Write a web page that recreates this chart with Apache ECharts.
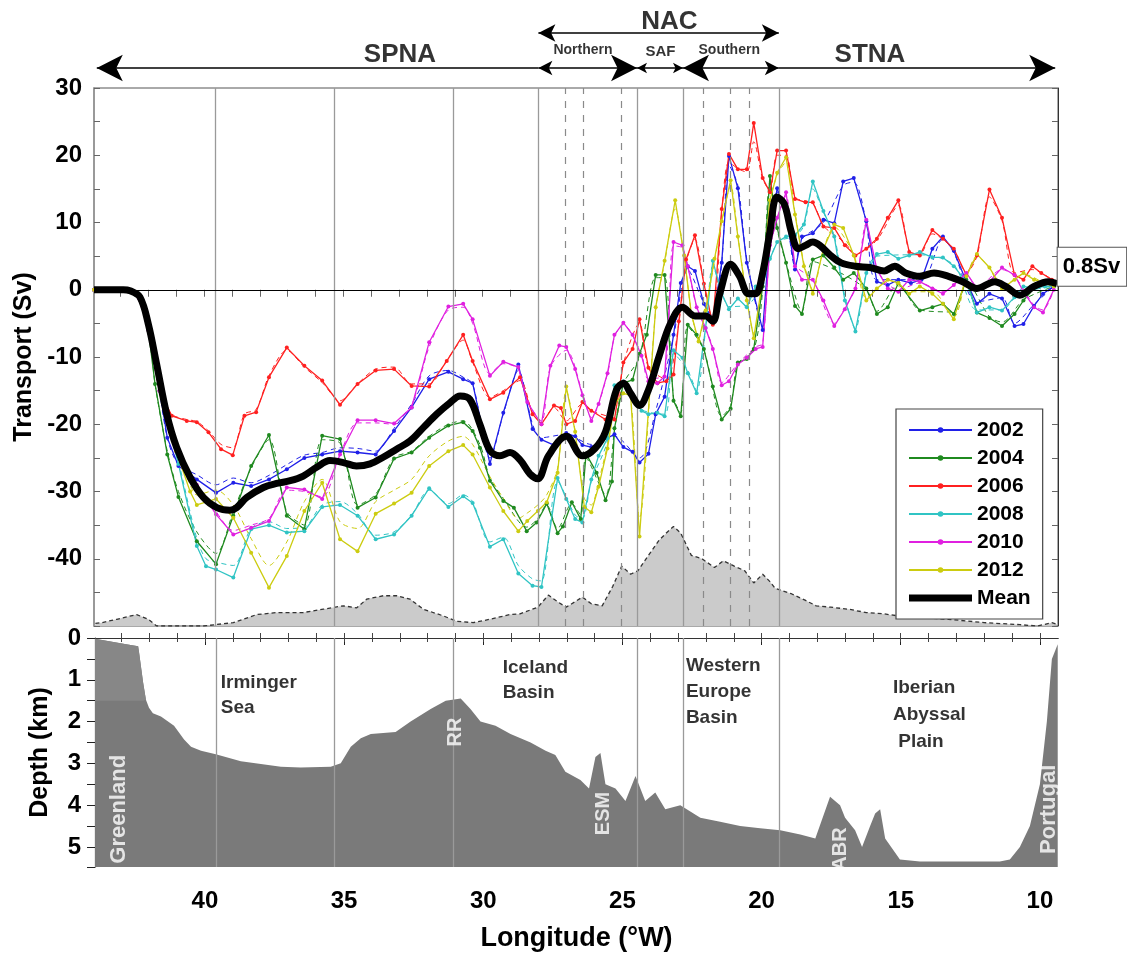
<!DOCTYPE html>
<html><head><meta charset="utf-8">
<script src="https://cdn.jsdelivr.net/npm/echarts@6/dist/echarts.min.js"></script>
<style>html,body{margin:0;padding:0;background:#fff}#c{width:1127px;height:953px}</style>
</head><body><div id="c"></div>
<script>
// ---------------- DATA ----------------
const years = ['2002', '2004', '2006', '2008', '2010', '2012'];
const yearColors = ['#2020e8', '#1f8a1f', '#ff2020', '#30c4c4', '#e020e0', '#cccc10'];

const y2002 = [[43.95,0],[43.5,0],[43.0,0],[42.66,-0.2],[42.3,-1.2],[42.0,-5],[41.7,-12],[41.32,-22.0],[40.92,-26.2],[40.26,-28.2],[39.57,-30.2],[38.95,-28.7],[38.31,-29.2],[37.67,-28.2],[37.03,-26.7],[36.40,-25.0],[35.76,-24.5],[35.12,-24.0],[34.49,-24.2],[33.84,-24.5],[33.18,-21.0],[32.55,-17.5],[31.92,-13.3],[31.23,-12.2],[30.70,-13.3],[30.36,-13.9],[29.74,-25.9],[29.26,-18.3],[28.72,-11.1],[28.21,-20.7],[27.89,-22.3],[27.44,-23.1],[27.0,-21.3],[26.68,-21.8],[26.42,-23.1],[26.10,-23.4],[25.78,-22.6],[25.27,-21.5],[24.95,-23.4],[24.62,-24.1],[24.37,-25.7],[24.05,-24.4],[23.79,-18.5],[23.47,-15.9],[23.15,-6.7],[22.89,1.0],[22.64,3.5],[22.38,2.8],[22.06,-2.1],[21.74,-4.7],[21.42,4.0],[21.16,19.9],[20.84,15.1],[20.52,4.0],[20.27,-0.6],[19.95,-6.0],[19.69,8.1],[19.43,15.1],[19.11,11.2],[18.79,3.0],[18.54,7.9],[18.15,8.4],[17.77,10.4],[17.38,9.9],[17.06,16.1],[16.68,16.6],[16.23,10.2],[15.85,1.2],[15.46,0.7],[15.08,1.5],[14.63,1.0],[14.25,1.5],[13.86,6.1],[13.48,7.9],[13.09,5.8],[12.64,1.2],[12.26,-2.1],[11.81,-0.6],[11.36,-1.3],[10.91,-5.4],[10.59,-5.1],[10.21,-2.4],[9.89,-0.6],[9.5,0.5]];
const y2004 = [[43.95,0],[43.5,0],[43.0,0],[42.66,-0.2],[42.3,-1.2],[42.0,-6],[41.76,-14.0],[41.32,-24.5],[40.92,-30.8],[40.26,-37.4],[39.57,-40.8],[38.95,-33.6],[38.31,-26.2],[37.67,-21.6],[37.03,-33.6],[36.40,-35.6],[35.76,-21.7],[35.12,-22.2],[34.49,-32.4],[33.84,-30.9],[33.18,-25.1],[32.55,-24.2],[31.92,-22.0],[31.23,-20.2],[30.70,-19.7],[30.36,-21.0],[30.10,-23.5],[29.74,-28.4],[29.26,-31.4],[28.88,-32.4],[28.42,-35.9],[28.06,-34.6],[27.70,-31.8],[27.31,-36.2],[27.12,-35.2],[26.80,-31.6],[26.48,-34.1],[26.29,-24.4],[25.91,-27.2],[25.59,-31.3],[25.36,-28.5],[25.27,-20.6],[24.95,-13.9],[24.62,-13.4],[24.37,-9.5],[24.11,-6.7],[23.79,2.2],[23.47,2.2],[23.15,-16.5],[22.89,-18.8],[22.64,-5.2],[22.32,-6.7],[22.06,-8.8],[21.74,-14.4],[21.42,-19.3],[21.10,-17.7],[20.84,-10.8],[20.52,-10.3],[20.27,-8.8],[19.95,0.5],[19.69,16.9],[19.43,9.2],[19.11,4.0],[18.79,-2.4],[18.54,-3.6],[18.15,4.5],[17.77,5.1],[17.38,3.3],[17.06,1.5],[16.68,2.5],[16.23,0.2],[15.85,-3.6],[15.46,-2.6],[15.08,1.0],[14.31,-3.1],[13.86,-2.6],[13.48,-2.1],[13.09,-3.6],[12.64,1.5],[12.26,-3.4],[11.81,-4.2],[11.36,-5.4],[10.91,-3.6],[10.59,-1.6],[10.21,0.2],[9.82,1.0],[9.5,0.5]];
const y2006 = [[43.95,0],[43.5,0],[43.0,0],[42.66,-0.2],[42.3,-1.2],[42.0,-6],[41.6,-15],[41.16,-18.75],[40.62,-19.5],[40.26,-19.7],[39.84,-21.2],[39.39,-23.7],[38.97,-24.6],[38.55,-18.75],[38.13,-18.2],[37.67,-13.0],[37.03,-8.6],[36.40,-11.3],[35.76,-13.5],[35.12,-17.1],[34.49,-14.0],[33.84,-12.0],[33.18,-11.8],[32.55,-14.3],[31.92,-14.4],[31.29,-10.6],[30.70,-6.7],[30.36,-10.6],[29.74,-16.3],[29.26,-15.3],[28.66,-13.0],[28.21,-18.5],[27.89,-20.0],[27.44,-17.2],[27.19,-17.6],[27.0,-20.0],[26.68,-19.5],[26.42,-16.7],[26.10,-18.0],[25.59,-19.3],[25.27,-19.3],[24.95,-10.8],[24.62,-8.8],[24.37,-4.4],[24.05,-11.6],[23.73,-13.9],[23.41,-13.6],[23.15,-12.6],[22.96,-4.7],[22.70,4.5],[22.38,8.1],[22.06,0.9],[21.74,-5.2],[21.42,12.0],[21.16,20.2],[20.84,17.9],[20.52,17.9],[20.27,24.8],[19.95,16.6],[19.69,14.5],[19.43,20.7],[19.11,20.7],[18.79,13.5],[18.41,13.0],[18.15,13.0],[17.77,9.4],[17.38,9.2],[17.0,6.6],[16.62,5.1],[16.23,6.1],[15.85,7.6],[15.46,10.7],[15.08,13.3],[14.69,5.6],[14.31,5.1],[13.86,8.9],[13.48,7.6],[13.09,6.1],[12.64,2.2],[12.26,5.1],[11.81,14.9],[11.36,10.7],[10.91,2.2],[10.59,1.5],[10.27,3.5],[9.95,2.5],[9.57,1.5]];
const y2008 = [[43.95,0],[43.5,0],[43.0,0],[42.66,-0.2],[42.3,-1.2],[42.0,-6],[41.6,-15],[40.92,-25.9],[40.26,-38.1],[39.93,-41.1],[39.57,-41.6],[38.95,-42.8],[38.31,-35.6],[37.67,-35.0],[37.03,-36.1],[36.40,-35.9],[35.76,-32.3],[35.12,-32.0],[34.49,-33.6],[33.84,-37.1],[33.18,-36.4],[32.55,-33.6],[31.92,-29.5],[31.23,-32.3],[30.70,-30.7],[30.36,-31.7],[29.74,-38.2],[29.26,-37.1],[28.72,-42.2],[28.21,-44.0],[27.89,-44.2],[27.31,-28.0],[27.0,-31.1],[26.68,-34.1],[26.42,-34.6],[26.10,-28.2],[25.84,-24.7],[25.52,-22.1],[25.27,-14.2],[24.95,-13.6],[24.62,-15.7],[24.30,-18.0],[24.05,-18.5],[23.73,-18.3],[23.47,-18.8],[23.15,-9.0],[22.83,-10.1],[22.64,-12.4],[22.32,-15.4],[22.0,-5.7],[21.74,4.3],[21.42,-0.6],[21.16,-2.9],[20.84,-1.3],[20.52,-2.6],[20.20,0.5],[19.95,1.0],[19.69,4.6],[19.43,7.1],[19.11,7.9],[18.79,8.1],[18.47,9.7],[18.15,16.1],[17.77,11.7],[17.38,7.9],[17.0,-1.6],[16.62,-6.2],[16.23,2.5],[15.85,5.3],[15.46,5.6],[15.08,4.6],[14.69,5.1],[14.31,5.6],[13.86,4.8],[13.48,4.8],[13.09,3.5],[12.64,1.2],[12.26,-3.4],[11.81,-2.6],[11.36,-3.1],[10.91,-1.1],[10.59,0.5],[10.21,0.2],[9.82,0.5],[9.5,0.5]];
const y2010 = [[43.95,0],[43.5,0],[43.0,0],[42.66,-0.2],[42.3,-1.2],[42.0,-6],[41.6,-15],[41.0,-24],[40.26,-29],[39.57,-33.4],[38.95,-36.4],[38.31,-35.4],[37.67,-34.4],[37.03,-29.4],[36.40,-29.7],[35.76,-31.1],[35.12,-24.5],[34.49,-19.4],[33.84,-19.4],[33.18,-19.9],[32.55,-17.5],[31.92,-7.8],[31.23,-2.5],[30.70,-2.1],[30.36,-4.4],[29.74,-12.8],[29.26,-10.7],[28.72,-11.5],[28.40,-16.7],[27.89,-20.0],[27.57,-11.3],[27.25,-8.3],[27.0,-8.5],[26.68,-11.8],[26.42,-15.7],[26.10,-19.5],[25.84,-17.0],[25.52,-12.4],[25.27,-6.7],[24.95,-4.9],[24.62,-6.7],[24.30,-9.8],[24.05,-13.6],[23.73,-13.9],[23.47,-12.9],[23.15,7.1],[22.83,6.6],[22.64,3.5],[22.32,-2.6],[22.0,-5.7],[21.74,-8.8],[21.42,-14.2],[21.16,-13.6],[20.84,-11.1],[20.52,-10.1],[20.20,-8.8],[19.95,-8.5],[19.69,6.6],[19.43,10.7],[19.11,14.5],[18.79,3.5],[18.54,1.5],[18.15,1.5],[17.77,-1.6],[17.38,-5.4],[17.0,-2.9],[16.62,0.2],[16.23,10.4],[15.85,3.0],[15.46,0.2],[15.08,-0.3],[14.69,1.5],[14.31,1.2],[13.86,0.2],[13.48,-0.6],[13.09,0.7],[12.64,2.5],[12.26,0.2],[11.81,1.2],[11.36,3.3],[10.91,2.2],[10.59,-0.3],[10.21,-2.6],[9.89,-3.4],[9.5,0]];
const y2012 = [[43.95,0],[43.5,0],[43.0,0],[42.66,-0.2],[42.3,-1.2],[42.0,-5],[41.7,-12],[41.0,-24],[40.5,-30],[40.26,-32.0],[39.57,-31.1],[38.95,-33.9],[38.31,-39.1],[37.67,-44.3],[37.03,-39.6],[36.40,-32.9],[35.76,-28.7],[35.12,-37.1],[34.49,-38.9],[33.84,-33.3],[33.18,-31.8],[32.55,-30.2],[31.92,-26.2],[31.23,-24.0],[30.70,-23.1],[30.36,-24.5],[29.74,-29.4],[29.26,-32.9],[28.72,-35.9],[28.40,-34.4],[28.02,-32.9],[27.70,-31.6],[27.31,-27.2],[27.0,-14.4],[26.68,-21.1],[26.35,-32.3],[26.10,-33.1],[25.84,-29.3],[25.52,-23.6],[25.27,-17.0],[24.95,-15.4],[24.69,-15.7],[24.37,-36.7],[23.79,-2.6],[23.47,4.3],[23.09,13.3],[22.77,5.1],[22.51,-3.6],[22.25,-7.7],[22.0,-3.1],[21.68,4.6],[21.42,10.2],[21.10,16.3],[20.84,7.9],[20.52,-1.6],[20.27,-7.2],[19.95,1.5],[19.69,13.3],[19.43,17.4],[19.11,19.7],[18.79,11.2],[18.47,3.5],[18.15,-0.6],[17.77,6.1],[17.38,9.7],[17.06,9.2],[16.68,5.1],[16.23,-1.6],[15.85,0.2],[15.46,1.5],[15.08,1.0],[14.69,-0.6],[14.31,0.5],[13.86,-0.6],[13.48,-2.1],[13.09,-4.4],[12.64,2.0],[12.26,5.3],[11.81,3.3],[11.36,0.2],[10.91,1.5],[10.59,2.5],[10.21,1.5],[9.82,1.0],[9.5,0.5]];

// dashed companion curves
const d2002 = [[43.95,0],[42.66,-0.2],[42.0,-5],[41.7,-12],[41.32,-22],[40.92,-26],[40.26,-27.5],[39.57,-29],[38.95,-28],[38.31,-28.7],[37.67,-27.6],[37.03,-26],[36.40,-24.6],[35.76,-24.2],[35.12,-23.5],[34.49,-23.6],[33.84,-24],[33.18,-20.6],[32.55,-17],[31.92,-12.8],[31.23,-12],[30.70,-13],[30.36,-14],[29.74,-25],[29.26,-18.5],[28.72,-12],[28.21,-20],[27.89,-22],[27.0,-21.5],[26.10,-23],[25.27,-21.8],[24.37,-25],[23.79,-18],[23.15,-7],[22.64,3],[22.06,-2],[21.74,-4],[21.42,4],[21.16,18.5],[20.84,15.5],[20.52,4.5],[19.95,-5.5],[19.69,8],[19.43,14.5],[19.11,11],[18.79,3.5],[18.54,7.5],[17.77,10],[17.06,15.5],[16.68,16],[16.23,10],[15.85,1.5],[14.25,1.5],[13.48,7.5],[13.09,5.5],[12.26,-1.8],[11.36,-1.2],[10.91,-5],[10.21,-2.2],[9.5,0.5]];
const d2004 = [[43.95,0],[42.66,-0.2],[42.0,-6],[41.76,-14],[41.32,-24],[40.92,-30],[40.26,-36],[39.57,-39.2],[38.95,-33],[38.31,-26.5],[37.67,-22.3],[37.03,-33],[36.40,-35],[35.76,-22.3],[35.12,-22.8],[34.49,-32],[33.84,-30.4],[33.18,-25],[32.55,-24],[31.92,-21.8],[31.23,-20],[30.70,-19.5],[30.10,-23],[29.74,-28],[29.26,-31],[28.42,-35.3],[28.06,-34.2],[27.70,-32],[27.31,-35.5],[26.80,-31.8],[26.48,-33.5],[26.29,-25],[25.59,-30.5],[25.27,-21],[24.95,-14],[24.37,-10],[23.79,1.8],[23.47,1.8],[23.15,-16],[22.89,-18.3],[22.64,-5.5],[22.06,-9],[21.42,-18.8],[21.10,-17.2],[20.84,-11],[20.27,-9],[19.95,0],[19.69,16],[19.43,9],[19.11,4],[18.54,-3.2],[18.15,4.2],[17.38,3],[16.23,0],[15.85,-3.2],[15.08,0.8],[14.31,-3],[13.09,-3.3],[12.64,1.2],[11.81,-4],[11.36,-4.8],[10.59,-1.5],[9.5,0.5]];
const d2006 = [[43.95,0],[42.66,-0.2],[42.0,-6],[41.6,-15],[41.16,-18.5],[40.62,-19.3],[40.26,-19.6],[39.84,-21],[39.39,-23],[38.97,-23.5],[38.55,-18.5],[38.13,-17.8],[37.67,-12.8],[37.03,-9],[36.40,-11.5],[35.76,-13.8],[35.12,-16.5],[34.49,-14],[33.84,-11.8],[33.18,-11.5],[32.55,-14],[31.92,-14],[31.29,-10.5],[30.70,-7.5],[30.36,-10.8],[29.74,-16],[29.26,-15],[28.66,-13.5],[28.21,-18.3],[27.89,-19.6],[27.44,-17.5],[27.0,-19.5],[26.42,-17],[26.10,-18],[25.27,-19],[24.95,-11],[24.37,-5],[24.05,-11.5],[23.41,-13.3],[22.96,-5],[22.70,4],[22.38,7.5],[22.06,1],[21.74,-4.8],[21.42,11.5],[21.16,19],[20.84,18],[20.52,17.5],[20.27,22],[19.95,16.5],[19.69,14.8],[19.43,20],[19.11,20],[18.79,13.8],[18.15,12.8],[17.77,9.5],[17.0,7],[16.62,5.3],[15.85,7.4],[15.08,12.5],[14.69,5.8],[14.31,5.3],[13.86,8.3],[13.09,6],[12.64,2.5],[12.26,5],[11.81,13.8],[11.36,10.3],[10.91,2.5],[10.27,3],[9.57,1.5]];
const d2008 = [[43.95,0],[42.66,-0.2],[42.0,-6],[41.6,-15],[40.92,-25.5],[40.26,-37],[39.93,-40],[39.57,-40.5],[38.95,-41],[38.31,-35.5],[37.67,-34.5],[37.03,-35.5],[36.40,-35.3],[35.76,-32],[35.12,-31.5],[34.49,-33.3],[33.84,-36.5],[33.18,-36],[32.55,-33.5],[31.92,-29.8],[31.23,-31.8],[30.70,-30.5],[30.36,-31.5],[29.74,-37.5],[29.26,-36.8],[28.72,-41],[28.21,-43],[27.89,-43.3],[27.31,-28.5],[26.68,-33.5],[26.42,-34],[26.10,-28.5],[25.52,-22.5],[25.27,-14.5],[24.95,-14],[24.30,-17.8],[23.47,-18.5],[23.15,-9.5],[22.64,-12],[22.32,-15],[22.0,-6],[21.74,3.5],[21.42,-0.3],[21.16,-2.5],[20.52,-2.3],[19.95,1],[19.43,7],[18.79,8],[18.47,9.5],[18.15,15],[17.77,11.5],[17.38,8],[17.0,-1],[16.62,-5.8],[16.23,2.5],[15.85,5],[14.31,5.2],[13.09,3.7],[12.26,-3],[11.36,-3],[10.91,-1.3],[10.21,0],[9.5,0.5]];
const d2010 = [[43.95,0],[42.66,-0.2],[42.0,-6],[41.6,-15],[41.0,-24],[40.26,-29],[39.57,-33],[38.95,-35.8],[38.31,-35],[37.67,-34],[37.03,-29.8],[36.40,-30],[35.76,-30.8],[35.12,-24.5],[34.49,-19.8],[33.84,-19.8],[33.18,-20],[32.55,-17.2],[31.92,-8.5],[31.23,-3],[30.70,-2.6],[30.36,-5],[29.74,-12.5],[29.26,-11],[28.72,-11.8],[28.40,-16.5],[27.89,-19.5],[27.57,-11.5],[27.0,-9],[26.42,-15.3],[26.10,-19],[25.52,-12.5],[25.27,-7],[24.95,-5.2],[24.30,-9.6],[24.05,-13.3],[23.47,-12.5],[23.15,6.5],[22.83,6.2],[22.32,-2.5],[21.74,-8.5],[21.42,-13.8],[20.84,-11],[20.20,-8.5],[19.95,-8],[19.69,6],[19.43,10.5],[19.11,14],[18.79,3.8],[18.15,1.5],[17.38,-5],[17.0,-2.7],[16.62,0.3],[16.23,9.8],[15.85,3],[15.08,0],[14.31,1],[13.48,-0.3],[12.64,2.3],[12.26,0.3],[11.36,3],[10.91,2],[10.21,-2.3],[9.89,-3],[9.5,0]];
const d2012 = [[43.95,0],[42.66,-0.2],[42.0,-5],[41.7,-12],[41.0,-23.5],[40.5,-29],[40.26,-30.5],[39.57,-29.8],[38.95,-32],[38.31,-37],[37.67,-41],[37.03,-37.5],[36.40,-31.5],[35.76,-28.2],[35.12,-34.5],[34.49,-35.5],[33.84,-31.5],[33.18,-29.8],[32.55,-28.2],[31.92,-24.7],[31.23,-22.5],[30.70,-21.8],[30.36,-23],[29.74,-27.8],[29.26,-31],[28.72,-34],[28.40,-33.2],[28.02,-32],[27.70,-30.5],[27.31,-26.5],[27.0,-15],[26.68,-21],[26.35,-31],[26.10,-32],[25.84,-28.5],[25.52,-23],[25.27,-17],[24.95,-15.5],[24.69,-16],[24.37,-34],[23.79,-3],[23.47,4],[23.09,12],[22.77,5],[22.51,-3.3],[22.25,-7.2],[22.0,-3],[21.68,4.2],[21.42,10],[21.10,15.5],[20.84,8],[20.52,-1.2],[20.27,-6.5],[19.95,1.5],[19.69,13],[19.43,17],[19.11,19],[18.79,11.5],[18.47,4],[18.15,0],[17.77,6],[17.38,9.3],[16.68,5.2],[16.23,-1.2],[15.46,1.5],[14.69,-0.3],[13.86,-0.3],[13.09,-4],[12.64,1.8],[12.26,5],[11.81,3.2],[11.36,0.4],[10.59,2.3],[9.82,1],[9.5,0.5]];

const meanLine = [[43.95,0],[43.5,0],[42.9,0],[42.66,-0.15],[42.30,-1.1],[42.0,-5.1],[41.70,-11.1],[41.34,-18.5],[40.98,-23.5],[40.50,-27.9],[40.02,-30.9],[39.54,-32.4],[39.07,-32.8],[38.83,-32.4],[38.47,-30.9],[37.87,-29.4],[37.39,-28.8],[36.91,-28.4],[36.44,-27.7],[35.96,-26.4],[35.48,-25.4],[35.0,-25.7],[34.53,-26.2],[34.04,-25.9],[33.57,-24.9],[33.09,-23.7],[32.61,-22.5],[32.13,-20.5],[31.65,-18.5],[31.17,-16.8],[30.81,-15.8],[30.46,-16.3],[30.10,-20.0],[29.74,-23.9],[29.38,-24.7],[29.02,-24.2],[28.66,-25.3],[28.30,-27.4],[28.02,-28.1],[27.64,-24.7],[27.0,-21.8],[26.42,-24.7],[25.97,-23.6],[25.59,-21.1],[25.20,-14.9],[24.94,-13.9],[24.69,-15.4],[24.37,-17.2],[24.05,-14.9],[23.66,-9.8],[23.28,-5.2],[22.83,-2.6],[22.38,-3.9],[22.0,-3.9],[21.74,-4.7],[21.49,-0.6],[21.10,3.8],[20.78,2.0],[20.46,-0.6],[20.20,-0.6],[19.95,2.5],[19.69,8.6],[19.44,13.8],[19.18,12.8],[18.92,8.6],[18.67,6.1],[18.41,6.6],[18.15,7.1],[17.90,6.6],[17.51,5.1],[17.13,4.0],[16.62,3.5],[16.10,3.3],[15.59,2.8],[15.21,3.5],[14.82,2.5],[14.31,2.0],[13.80,2.5],[13.28,2.0],[12.77,1.2],[12.26,0.2],[11.62,1.2],[11.23,0.5],[10.72,-0.8],[10.21,0.5],[9.70,1.2],[9.38,0.9]];

const grayProfile = [[43.9,-49.6],[43.67,-49.5],[43.13,-49.0],[42.42,-48.3],[42.0,-49.0],[41.70,-50],[40.98,-50],[40.02,-50],[38.95,-49.5],[38.11,-48.3],[37.39,-48.0],[36.44,-48.0],[35.72,-47.5],[35.0,-47.0],[34.52,-47.3],[34.16,-46.0],[33.57,-45.5],[33.09,-45.5],[32.61,-46.0],[32.13,-47.5],[31.41,-48.5],[30.93,-49.3],[30.34,-49.5],[29.74,-49.0],[29.02,-48.3],[28.66,-48.2],[28.02,-47.2],[27.64,-45.4],[27.31,-46.4],[27.0,-47.2],[26.42,-45.7],[26.10,-46.7],[25.71,-47.0],[25.33,-44.1],[25.01,-41.1],[24.69,-42.3],[24.43,-41.8],[24.05,-39.5],[23.66,-37.2],[23.34,-35.9],[23.15,-35.2],[22.89,-36.2],[22.51,-39.5],[22.13,-40.0],[21.68,-41.3],[21.36,-40.3],[20.97,-41.1],[20.59,-41.8],[20.27,-43.6],[19.95,-42.3],[19.69,-43.4],[19.50,-44.4],[18.92,-45.2],[18.41,-46.2],[18.03,-47.0],[17.51,-47.2],[16.87,-47.5],[16.23,-48.0],[15.59,-48.2],[15.08,-48.5],[14.57,-48.7],[13.28,-49.0],[12.0,-49.5],[10.72,-49.8],[10.08,-50.0],[9.57,-49.5],[9.35,-49.8]];

const bathymetry = [[43.95,0.02],[43.91,0.05],[42.83,0.15],[42.40,0.2],[42.37,0.33],[42.22,1.07],[42.12,1.48],[42.01,1.67],[41.87,1.8],[41.58,1.88],[41.11,2.1],[40.75,2.43],[40.50,2.6],[40.14,2.7],[39.61,2.78],[38.71,2.95],[37.27,3.08],[36.56,3.1],[35.48,3.08],[35.12,3.0],[34.76,2.6],[34.40,2.4],[34.04,2.3],[33.15,2.25],[32.61,2.0],[31.89,1.7],[31.35,1.5],[30.81,1.45],[30.46,1.7],[30.10,2.0],[29.56,2.1],[29.02,2.3],[28.30,2.5],[27.76,2.7],[27.41,2.8],[27.05,3.2],[26.51,3.4],[26.2,3.6],[25.97,2.85],[25.79,2.75],[25.61,3.5],[25.25,3.6],[24.89,3.9],[24.53,3.3],[24.18,3.9],[23.82,3.7],[23.46,4.1],[22.92,4.0],[22.20,4.3],[21.49,4.4],[20.77,4.5],[20.05,4.55],[19.33,4.6],[18.61,4.7],[18.07,4.8],[17.54,3.8],[17.18,4.0],[17.00,4.3],[16.64,4.6],[16.39,5.0],[16.1,4.5],[15.92,4.2],[15.74,4.1],[15.56,4.8],[15.03,5.3],[14.31,5.35],[11.44,5.35],[11.08,5.3],[10.72,5.0],[10.36,4.5],[10.0,3.5],[9.75,2.0],[9.57,0.5],[9.36,0.15]];
// lighter shelf shading above 1.5 km off Greenland
const greenlandShelf = [[43.95,0.02],[43.91,0.05],[42.83,0.15],[42.40,0.2],[42.37,0.33],[42.22,1.07],[42.12,1.48],[42.10,1.5]];

const lonTickLabels = [40, 35, 30, 25, 20, 15, 10];
const lonMinorTicks = [10,11,12,13,14,15,16,17,18,19,20,21,22,23,24,25,26,27,28,29,30,31,32,33,34,35,36,37,38,39,40,41,42,43];
const regionBounds = [39.6, 35.34, 31.07, 28.0, 24.46, 22.81, 19.37];
const frontLines = [27.05, 26.4, 25.04, 22.1, 21.13, 20.44];
const basinBounds = [39.6, 35.34, 31.07, 24.46, 22.81, 19.37];

// ---------------- CHART ----------------
const FONT = 'Liberation Sans, Arial, Helvetica, sans-serif';
const chart = echarts.init(document.getElementById('c'), null, {renderer: 'canvas'});
const LON_MIN = 9.35, LON_MAX = 43.95;
const boldText = (size, color) => ({fontFamily: FONT, fontWeight: 'bold', fontSize: size, color: color || '#000'});

const xBase = {type: 'value', min: LON_MIN, max: LON_MAX, inverse: true, splitLine: {show: false}};

const dashedData = [d2002, d2004, d2006, d2008, d2010, d2012];
const solidData = [y2002, y2004, y2006, y2008, y2010, y2012];

const series = [];
series.push({
  type: 'line', xAxisIndex: 0, yAxisIndex: 0, data: [[LON_MAX, -50], [LON_MIN, -50]],
  symbol: 'none', lineStyle: {opacity: 0}, silent: true, z: 1,
  markLine: {
    silent: true, symbol: 'none', label: {show: false}, animation: false,
    data: regionBounds.map(v => ({xAxis: v, lineStyle: {color: '#9a9a9a', width: 1.3, type: 'solid'}}))
      .concat(frontLines.map(v => ({xAxis: v, lineStyle: {color: '#8a8a8a', width: 1.2, type: [7, 7]}})))
      .concat([{yAxis: 0, lineStyle: {color: '#000', width: 1.2, type: 'solid'}}])
  }
});
series.push({
  type: 'line', xAxisIndex: 0, yAxisIndex: 0, data: grayProfile, symbol: 'none', z: 2, silent: true,
  lineStyle: {color: '#333', width: 1.3, type: [4, 3]},
  areaStyle: {color: '#cbcbcb', opacity: 1, origin: 'start'}
});
dashedData.forEach((d, i) => series.push({
  name: years[i] + ' (dashed)', type: 'line', xAxisIndex: 0, yAxisIndex: 0, data: d,
  symbol: 'none', smooth: 0.3, z: 3, silent: true,
  lineStyle: {color: yearColors[i], width: 1, type: [5, 4]}
}));
solidData.forEach((d, i) => series.push({
  name: years[i], type: 'line', xAxisIndex: 0, yAxisIndex: 0, data: d,
  symbol: 'circle', symbolSize: 4, z: 4,
  itemStyle: {color: yearColors[i]},
  lineStyle: {color: yearColors[i], width: 1.3}
}));
series.push({
  name: 'Mean', type: 'line', xAxisIndex: 0, yAxisIndex: 0, data: meanLine,
  symbol: 'none', smooth: 0.35, z: 6,
  itemStyle: {color: '#000'},
  lineStyle: {color: '#000', width: 7},
  endLabel: {
    show: true, formatter: '0.8Sv', ...boldText(22), backgroundColor: '#fff',
    borderColor: '#555', borderWidth: 1, padding: [9, 6, 7, 5], distance: 0, offset: [69, -17]
  }
});
// bottom panel
series.push({
  type: 'line', xAxisIndex: 2, yAxisIndex: 2, data: [[LON_MAX, 0], [LON_MIN, 0]],
  symbol: 'none', lineStyle: {opacity: 0}, silent: true, z: 1,
  markLine: {
    silent: true, symbol: 'none', label: {show: false}, animation: false,
    data: basinBounds.map(v => ({xAxis: v, lineStyle: {color: '#9a9a9a', width: 1.3, type: 'solid'}}))
  }
});
series.push({
  type: 'line', xAxisIndex: 2, yAxisIndex: 2, data: bathymetry, symbol: 'none', z: 2, silent: true,
  lineStyle: {width: 0, color: '#7a7a7a'},
  areaStyle: {color: '#7a7a7a', opacity: 1, origin: 'end'}
});
series.push({
  type: 'line', xAxisIndex: 2, yAxisIndex: 2, data: greenlandShelf, symbol: 'none', z: 3, silent: true,
  lineStyle: {width: 0, color: '#878787'},
  areaStyle: {color: '#878787', opacity: 1, origin: 1.5}
});
const txt = (name, lon, y, style) => ({name, value: [lon, y], label: style});
series.push({
  type: 'scatter', xAxisIndex: 2, yAxisIndex: 2, symbolSize: 1, z: 8, silent: true,
  itemStyle: {color: 'rgba(0,0,0,0)'},
  label: {show: true, formatter: '{b}', position: 'inside', ...boldText(19), align: 'left', lineHeight: 25},
  data: [
    txt('Irminger\nSea', 39.43, 1.37, {}),
    txt('Iceland\nBasin', 29.3, 1.0, {}),
    txt('Western\nEurope\nBasin', 22.72, 1.29, {lineHeight: 26}),
    txt('Iberian\nAbyssal\n Plain', 15.28, 1.83, {lineHeight: 27}),
    txt('Greenland', 43.1, 4.1, {color: '#fff', fontSize: 22, rotate: 90, align: 'center'}),
    txt('RR', 31.0, 2.25, {color: '#fff', fontSize: 20, rotate: 90, align: 'center'}),
    txt('ESM', 25.68, 4.2, {color: '#fff', fontSize: 20, rotate: 90, align: 'center'}),
    txt('ABR', 17.18, 5.05, {color: '#fff', fontSize: 20, rotate: 90, align: 'center'}),
    txt('Portugal', 9.68, 4.1, {color: '#fff', fontSize: 22, rotate: 90, align: 'center'})
  ]
});
// header arrows
const big = [20, 26], small = [13, 17], tiny = [8, 10];
const ep = (lon, y, size) => size ? {coord: [lon, y], symbol: 'arrow', symbolSize: size} : {coord: [lon, y], symbol: 'none'};
series.push({
  type: 'line', xAxisIndex: 5, yAxisIndex: 4, data: [[LON_MAX, 0], [LON_MIN, 0]],
  symbol: 'none', lineStyle: {opacity: 0}, silent: true, z: 5,
  markLine: {
    silent: true, label: {show: false}, animation: false,
    lineStyle: {color: '#000', width: 1.5, type: 'solid'},
    data: [
      [ep(28.0, 0.653, small), ep(19.37, 0.653, small)],
      [ep(43.85, 0.167, big), ep(28.0, 0.167)],
      [ep(28.0, 0.167, [11, 14]), ep(24.46, 0.167, big)],
      [ep(24.46, 0.167, tiny), ep(22.81, 0.167, tiny)],
      [ep(22.81, 0.167, big), ep(19.37, 0.167, [11, 14])],
      [ep(19.37, 0.167), ep(9.45, 0.167, big)]
    ]
  }
});
series.push({
  type: 'scatter', xAxisIndex: 5, yAxisIndex: 4, symbolSize: 1, z: 8, silent: true,
  itemStyle: {color: 'rgba(0,0,0,0)'},
  label: {show: true, formatter: '{b}', position: 'inside', ...boldText(26)},
  data: [
    txt('NAC', 23.3, 0.81, {}),
    txt('SPNA', 32.97, 0.35, {}),
    txt('STNA', 16.1, 0.35, {}),
    txt('Northern', 26.4, 0.42, {fontSize: 14}),
    txt('SAF', 23.62, 0.39, {fontSize: 15}),
    txt('Southern', 21.15, 0.42, {fontSize: 14})
  ]
});

const legendItems = years.map(n => ({name: n})).concat([{name: 'Mean', icon: 'rect', itemStyle: {color: '#000'}}]);

const option = {
  animation: false,
  backgroundColor: '#fff',
  textStyle: {fontFamily: FONT},
  grid: [
    {left: 94, top: 88, right: 69, height: 538, show: true, borderColor: '#555', borderWidth: 1, backgroundColor: 'transparent'},
    {left: 95, top: 638, right: 69, height: 230, show: false},
    {left: 94, top: 8, right: 69, height: 72, show: false}
  ],
  legend: {
    data: legendItems, orient: 'vertical', left: 896, top: 409,
    padding: [10, 12, 10, 12], itemGap: 6, itemWidth: 63, itemHeight: 7,
    backgroundColor: '#fff', borderColor: '#444', borderWidth: 1.2,
    textStyle: {...boldText(21), lineHeight: 22}, selectedMode: false
  },
  xAxis: [
    {...xBase, gridIndex: 0, position: 'bottom', axisLine: {show: true, lineStyle: {color: '#333'}},
      axisTick: {show: false}, axisLabel: {show: false}},
    {...xBase, gridIndex: 0, position: 'top', axisLine: {show: false},
      axisTick: {show: true, inside: true, length: 7, customValues: lonMinorTicks, lineStyle: {color: '#666'}},
      axisLabel: {show: false}},
    {...xBase, gridIndex: 1, position: 'bottom', axisLine: {show: true, lineStyle: {color: '#333', width: 1.2}},
      axisTick: {show: true, length: 7, customValues: lonTickLabels, lineStyle: {color: '#222'}},
      axisLabel: {show: true, customValues: lonTickLabels, margin: 22, ...boldText(24)},
      name: 'Longitude (°W)', nameLocation: 'middle', nameGap: 58, nameTextStyle: boldText(27)},
    {...xBase, gridIndex: 1, position: 'bottom', axisLine: {show: false},
      axisTick: {show: true, length: 4, customValues: lonMinorTicks, lineStyle: {color: '#444'}},
      axisLabel: {show: false}},
    {...xBase, gridIndex: 1, position: 'top', axisLine: {show: true, lineStyle: {color: '#333', width: 1.2}},
      axisTick: {show: true, length: 5, customValues: lonMinorTicks, lineStyle: {color: '#444'}},
      axisLabel: {show: false}},
    {...xBase, gridIndex: 2, show: false}
  ],
  yAxis: [
    {type: 'value', gridIndex: 0, min: -50, max: 30, interval: 10, position: 'left',
      axisLine: {show: true, lineStyle: {color: '#999', width: 2}},
      axisTick: {show: true, inside: true, length: 6, lineStyle: {color: '#666'}},
      minorTick: {show: true, splitNumber: 2, length: 6, lineStyle: {color: '#666'}},
      splitLine: {show: false},
      axisLabel: {showMinLabel: false, margin: 12, ...boldText(24)},
      name: 'Transport (Sv)', nameLocation: 'middle', nameGap: 46, nameRotate: 90, nameTextStyle: boldText(25)},
    {type: 'value', gridIndex: 0, min: -50, max: 30, interval: 10, position: 'right',
      axisLine: {show: true, lineStyle: {color: '#333'}},
      axisTick: {show: true, inside: true, length: 6, lineStyle: {color: '#666'}},
      minorTick: {show: true, splitNumber: 2, length: 6, lineStyle: {color: '#666'}},
      splitLine: {show: false}, axisLabel: {show: false}},
    {type: 'value', gridIndex: 1, min: 0, max: 5.48, interval: 1, inverse: true, position: 'left',
      axisLine: {show: true, lineStyle: {color: '#333', width: 1.2}},
      axisTick: {show: true, length: 8, lineStyle: {color: '#222'}},
      minorTick: {show: true, splitNumber: 2, length: 8, lineStyle: {color: '#222'}},
      splitLine: {show: false},
      axisLabel: {showMaxLabel: false, margin: 14, ...boldText(24)},
      name: 'Depth (km)', nameLocation: 'middle', nameGap: 42, nameRotate: 90, nameTextStyle: boldText(25)},
    {type: 'value', gridIndex: 1, min: 0, max: 5.48, inverse: true, position: 'right', show: false},
    {type: 'value', gridIndex: 2, min: 0, max: 1, show: false}
  ],
  series
};
chart.setOption(option);
</script>
</body></html>
